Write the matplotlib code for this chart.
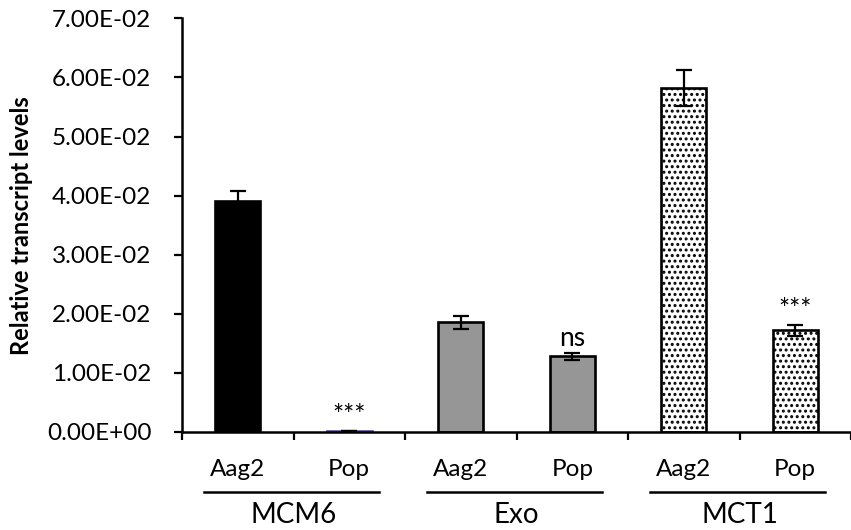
#!/usr/bin/env python3
"""Relative transcript levels, Aag2 vs Pop, for MCM6 / Exo / MCT1."""

import matplotlib
matplotlib.use("Agg")
import matplotlib.pyplot as plt
import numpy as np

plt.rcParams["font.family"] = ["Lato", "DejaVu Sans"]
plt.rcParams["hatch.linewidth"] = 1.4
plt.rcParams["hatch.color"] = "black"

# Data
genes = ["MCM6", "Exo", "MCT1"]
cells = ["Aag2", "Pop"]
values = [0.0391, 0.0001, 0.0186, 0.0128, 0.0582, 0.0172]
errors = [0.0017, 0.0, 0.0011, 0.0006, 0.0031, 0.0009]
signif = ["", "***", "", "ns", "", "***"]
yticks = [0.0, 0.01, 0.02, 0.03, 0.04, 0.05, 0.06, 0.07]

# Styles
FILLS = ["black", "black", "#969696", "#969696", "white", "white"]
HATCHES = [None, None, None, None, "...", "..."]
TICK_FS = 17.5
GENE_FS = 20
SIG_FS = 19

fig = plt.figure(figsize=(8.51, 5.30), dpi=100)
ax = fig.add_axes([182 / 851, 98 / 530, 1 - 182 / 851, 413.7 / 530])

x = np.arange(len(values))
bars = ax.bar(x, values, width=0.4, color=FILLS, edgecolor="black",
              linewidth=1.9, zorder=2)
for b, h in zip(bars, HATCHES):
    if h:
        b.set_hatch(h)
bars[1].set_edgecolor("#5a4a9a")

ax.errorbar(x, values, yerr=errors, fmt="none", ecolor="black",
            elinewidth=1.6, capsize=6, capthick=1.6, zorder=3)

for xi, v, e, s in zip(x, values, errors, signif):
    if s:
        ax.annotate(s, xy=(xi, v + e), xytext=(0, 5), textcoords="offset points",
                    ha="center", va="baseline", fontsize=SIG_FS)

ax.set_xlim(-0.5, 5.42)
ax.set_ylim(0, 0.07)
ax.set_yticks(yticks)
ax.set_yticklabels([f"{t:.2E}" for t in yticks], fontsize=TICK_FS)
ax.set_xticks(np.arange(len(values) + 1) - 0.5)
ax.set_xticklabels([])
ax.tick_params(axis="x", direction="out", length=6, width=1.6, color="black")
ax.tick_params(axis="y", direction="out", length=6, width=1.6, color="black",
               pad=16)

for side in ["top", "right"]:
    ax.spines[side].set_visible(False)
for side in ["left", "bottom"]:
    ax.spines[side].set_linewidth(1.8)

ax.set_ylabel("Relative transcript levels", fontsize=17, fontweight="bold")
ax.yaxis.set_label_coords(-0.222, 0.5)

# group labels under the axis
trans = ax.get_xaxis_transform()
for gi, g in enumerate(genes):
    x0 = 2 * gi
    for ci, c in enumerate(cells):
        ax.text(x0 + ci, -0.09, c, transform=trans, ha="center", va="center",
                fontsize=TICK_FS, clip_on=False)
    ax.plot([x0 - 0.3, x0 + 1.27], [-0.145, -0.145], transform=trans,
            color="black", linewidth=1.8, clip_on=False)
    ax.text(x0 + 0.5, -0.2, g, transform=trans, ha="center", va="center",
            fontsize=GENE_FS, clip_on=False)

fig.savefig("out.png", dpi=100, facecolor="white")
plt.close(fig)
